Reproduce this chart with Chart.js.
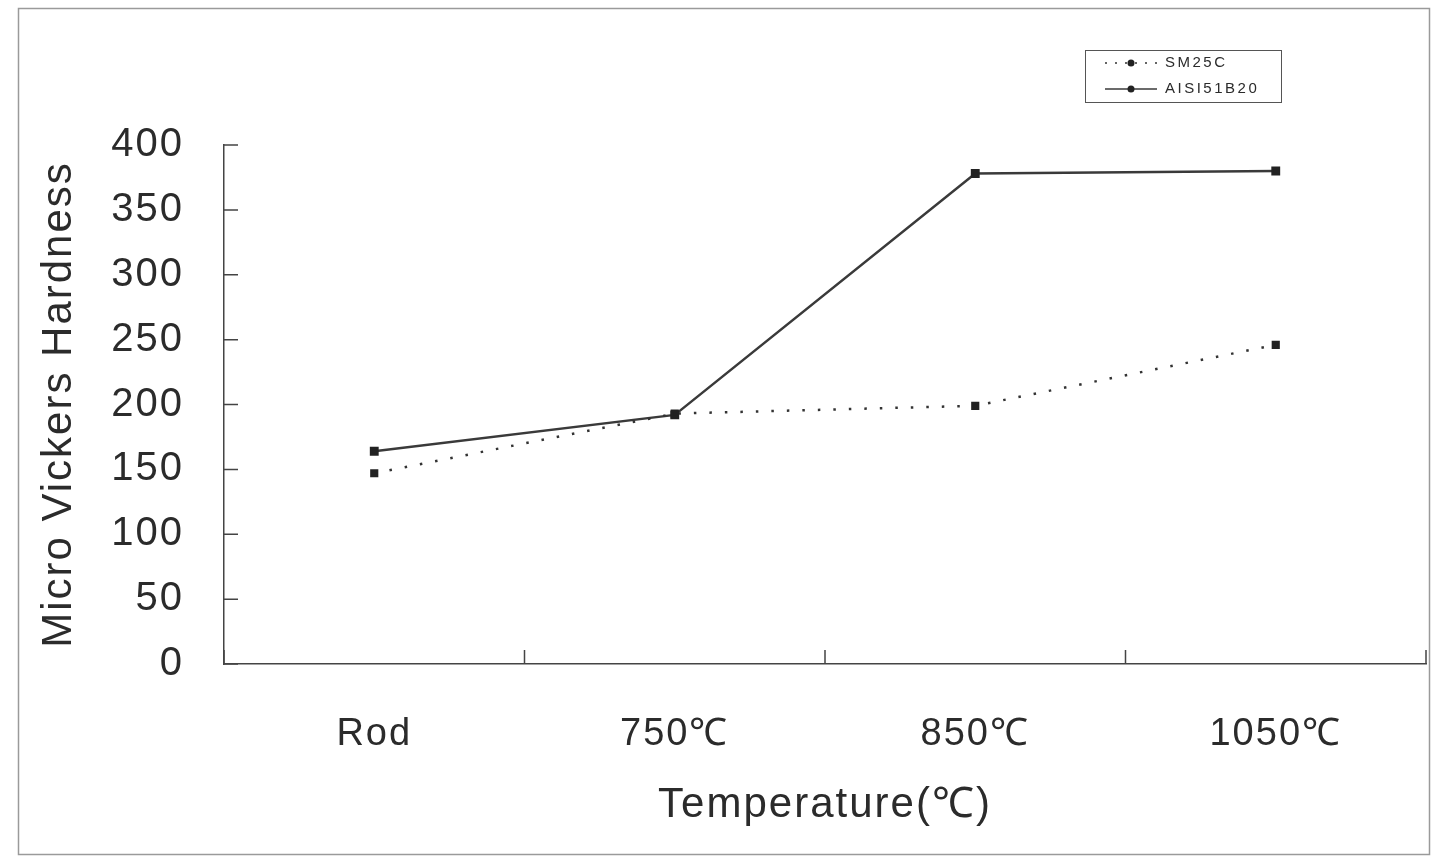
<!DOCTYPE html>
<html>
<head>
<meta charset="utf-8">
<script src="https://cdn.jsdelivr.net/npm/chart.js@4.4.0/dist/chart.umd.min.js"></script>
<style>
  html, body { margin: 0; padding: 0; background: #fff; }
  #wrap { width: 1434px; height: 859px; position: relative; }
</style>
</head>
<body>
<div id="wrap"><canvas id="lineChart"></canvas></div>
<script>
const categories = ["Rod", "750\u2103", "850\u2103", "1050\u2103"];
const sm25c = [147, 193, 199, 246];
const aisi51b20 = [164, 192, 378, 380];
const yTicks = [0, 50, 100, 150, 200, 250, 300, 350, 400];

const ink = "#2b2b2b";
const fam = "'Liberation Sans', Arial, sans-serif";

// frame, inward ticks and boxed legend
const extras = {
    id: "extras",
    beforeDraw(chart) {
        const c = chart.ctx;
        c.save();
        c.strokeStyle = "#9a9a9a";
        c.lineWidth = 1.5;
        c.strokeRect(18.5, 8.5, 1411, 846);
        c.restore();
        c.letterSpacing = "2px";
    },
    afterDraw(chart) {
        const c = chart.ctx;
        const x = chart.scales.x, y = chart.scales.y;
        c.save();
        c.strokeStyle = "#444";
        c.lineWidth = 1.5;
        c.beginPath();
        yTicks.forEach(v => {
            const py = y.getPixelForValue(v);
            c.moveTo(x.left, py); c.lineTo(x.left + 14, py);
        });
        const half = (x.getPixelForTick(1) - x.getPixelForTick(0)) / 2;
        for (let i = 0; i <= categories.length; i++) {
            const px = x.getPixelForTick(0) - half + i * 2 * half;
            c.moveTo(px, y.bottom); c.lineTo(px, y.bottom - 14);
        }
        c.stroke();

        // legend box
        c.strokeStyle = "#555";
        c.lineWidth = 1;
        c.strokeRect(1085.5, 50.5, 196, 52);
        c.font = "15px " + fam;
        c.letterSpacing = "2.5px";
        c.textBaseline = "middle";
        chart.data.datasets.forEach((ds, i) => {
            const ly = 63 + i * 26;
            c.strokeStyle = ds.borderColor;
            c.lineWidth = 1.5;
            c.setLineDash(i === 0 ? [2, 8] : []);
            c.beginPath();
            c.moveTo(1105, ly); c.lineTo(1157, ly);
            c.stroke();
            c.setLineDash([]);
            c.fillStyle = ds.pointBackgroundColor;
            c.beginPath();
            c.arc(1131, ly, 3.5, 0, Math.PI * 2);
            c.fill();
            c.fillStyle = ink;
            c.fillText(ds.label, 1165, ly);
        });
        c.restore();
    }
};

const data = {
    labels: categories,
    datasets: [
        {
            label: "SM25C",
            data: sm25c,
            borderColor: "#333",
            borderWidth: 2.5,
            borderDash: [2.5, 13],
            pointStyle: "rect",
            pointRadius: 4,
            pointBackgroundColor: "#222",
            pointBorderColor: "#222",
            tension: 0,
        },
        {
            label: "AISI51B20",
            data: aisi51b20,
            borderColor: "#3a3a3a",
            borderWidth: 2.5,
            pointStyle: "rect",
            pointRadius: 4.5,
            pointBackgroundColor: "#222",
            pointBorderColor: "#222",
            tension: 0,
        },
    ],
};

const config = {
    type: "line",
    data: data,
    options: {
        responsive: false,
        animation: false,
        layout: { padding: { left: 34, top: 145, right: 8, bottom: 20 } },
        plugins: {
            legend: { display: false },
            tooltip: { enabled: false },
        },
        scales: {
            x: {
                offset: true,
                grid: { display: false, drawTicks: false },
                border: { display: true, color: "#444", width: 1.5 },
                ticks: {
                    color: ink,
                    padding: 48,
                    font: { size: 38, family: fam },
                },
                title: {
                    display: true,
                    text: "Temperature(\u2103)",
                    color: ink,
                    padding: { top: 0, bottom: 8 },
                    font: { size: 42, family: fam },
                },
                afterFit(s) { s.height = 859 - 664 - 20; },
            },
            y: {
                min: 0,
                max: 400,
                ticks: {
                    stepSize: 50,
                    color: ink,
                    padding: 40,
                    font: { size: 40, family: fam },
                },
                grid: { display: false, drawTicks: false },
                border: { display: true, color: "#444", width: 1.5 },
                title: {
                    display: true,
                    text: "Micro Vickers Hardness",
                    color: ink,
                    padding: 0,
                    font: { size: 42, family: fam },
                },
                afterFit(s) { s.width = 224 - 34; },
            },
        },
    },
    plugins: [extras],
};

const cv = document.getElementById("lineChart");
cv.width = 1434;
cv.height = 859;
new Chart(cv.getContext("2d"), config);
</script>
</body>
</html>
